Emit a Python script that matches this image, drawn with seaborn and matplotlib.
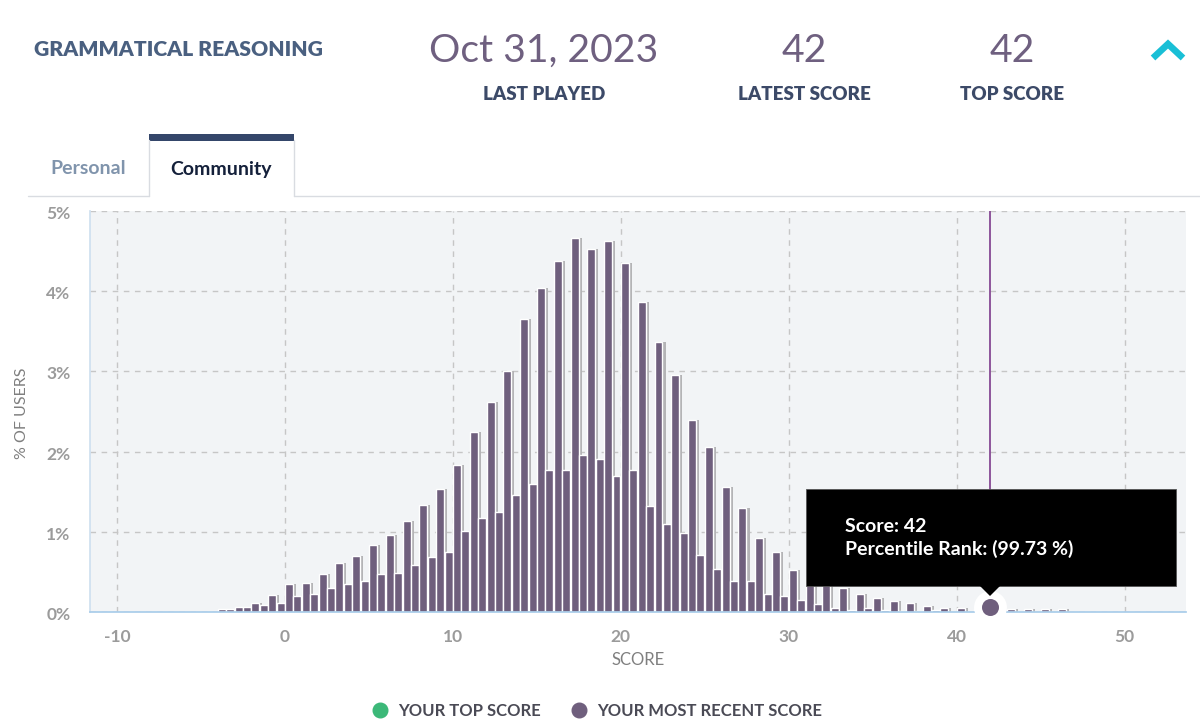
import numpy as np
import pandas as pd
import matplotlib
matplotlib.use("Agg")
import matplotlib.pyplot as plt
from matplotlib.lines import Line2D
from matplotlib.patches import Polygon, Rectangle
from matplotlib.transforms import ScaledTranslation
import seaborn as sns

# scores the community bars start from
scores = list(range(-4, 47))
# taller bar of each pair, % of users
tall_pct = [0.035, 0.06, 0.11, 0.21, 0.35, 0.366, 0.47, 0.61, 0.70, 0.83, 0.96, 1.13, 1.33,
            1.53, 1.83, 2.24, 2.62, 3.01, 3.65, 4.04, 4.38, 4.66, 4.52, 4.63, 4.35, 3.86,
            3.37, 2.95, 2.39, 2.06, 1.56, 1.30, 0.92, 0.75, 0.52, 0.44, 0.36, 0.30, 0.23,
            0.175, 0.14, 0.11, 0.075, 0.05, 0.05, 0.04, 0.04, 0.035, 0.035, 0.035, 0.035]
# shorter bar of each pair
short_pct = [0.035, 0.06, 0.09, 0.11, 0.20, 0.22, 0.295, 0.35, 0.39, 0.47, 0.49, 0.59, 0.68,
             0.75, 1.01, 1.17, 1.25, 1.46, 1.60, 1.77, 1.77, 1.96, 1.91, 1.70, 1.77, 1.32,
             1.10, 0.99, 0.71, 0.54, 0.39, 0.39, 0.23, 0.20, 0.15, 0.10, 0.05, 0.025, 0.05,
             0.025, 0.01, 0.01, 0.02, 0.005, 0.005, 0, 0, 0, 0, 0, 0]
latest_score = 42
latest_pct = 0.06
x_ticks = [-10, 0, 10, 20, 30, 40, 50]
y_ticks = [0, 1, 2, 3, 4, 5]

W, H = 1200, 728
PURPLE = "#6f5f7d"
GREY = "#9b9b9b"
NAVY = "#3c4a68"
FONT = "Lato"


def fx(px):
    return px / W


def fy(px):
    return 1 - px / H


sns.set_theme(style="white")
plt.rcParams["font.family"] = [FONT, "DejaVu Sans"]

fig = plt.figure(figsize=(W / 100, H / 100), dpi=100, facecolor="white")
ax = fig.add_axes([fx(90), fy(612), (1186 - 90) / W, (612 - 211) / H])
ax.set_facecolor("#f2f4f6")

# bars sit at quarter offsets of each score
tall_x = [s + 0.25 for s in scores]
short_x = [s + 0.75 for s in scores]
bars = pd.DataFrame({"score": tall_x + short_x, "pct": tall_pct + short_pct})
shadow = pd.DataFrame({"score": [x + 0.21 for x in tall_x], "pct": tall_pct})

sns.barplot(data=shadow, x="score", y="pct", native_scale=True, width=0.42,
            color="#b4b4b6", saturation=1, linewidth=0, ax=ax, zorder=2)
sns.barplot(data=bars, x="score", y="pct", native_scale=True, width=0.95,
            color=PURPLE, saturation=1, edgecolor="white", linewidth=1, ax=ax, zorder=3)

ax.set_xlim(-11.6, 53.66)
ax.set_ylim(0, 5)
ax.set_xticks(x_ticks)
ax.set_xticklabels([str(v) for v in x_ticks], fontweight="bold")
ax.set_yticks(y_ticks)
ax.set_yticklabels([f"{v}%" for v in y_ticks], fontweight="bold")
ax.set_axisbelow(True)
ax.grid(True, color="#c6c6c6", linestyle=(0, (4, 4)), linewidth=1)
ax.tick_params(length=0, labelsize=12.5, labelcolor=GREY)
ax.tick_params(axis="x", pad=12)
ax.tick_params(axis="y", pad=14)
nudge = ScaledTranslation(0, -1.5 / 100, fig.dpi_scale_trans)
for lab in ax.get_yticklabels():
    lab.set_transform(lab.get_transform() + nudge)
ax.set_xlabel("")
ax.set_ylabel("")
for side in ["top", "right"]:
    ax.spines[side].set_visible(False)
ax.spines["left"].set_color("#cfe0f0")
ax.spines["bottom"].set_color("#a9cdea")
ax.spines["bottom"].set_zorder(4)

# latest score marker, its line and the tooltip
ax.axvline(latest_score, color="#7d3a8c", linewidth=1.2, zorder=4)
marker = pd.DataFrame({"score": [latest_score], "pct": [latest_pct]})
sns.scatterplot(data=marker, x="score", y="pct", s=560, color="white", linewidth=0,
                clip_on=False, ax=ax, zorder=5)
ax.set_xlabel("")
ax.set_ylabel("")

fig.add_artist(Rectangle((fx(806), fy(586)), 370 / W, 97 / H, transform=fig.transFigure,
                         facecolor="black", edgecolor="#555555", linewidth=0.6, zorder=6))
fig.add_artist(Polygon([(fx(980), fy(586)), (fx(1000), fy(586)), (fx(990), fy(596))],
                       transform=fig.transFigure, facecolor="black", edgecolor="none", zorder=6))
fig.text(fx(845), fy(526), "Score: 42", color="white", fontsize=14, fontweight="bold",
         va="center", zorder=7)
fig.text(fx(845), fy(549), "Percentile Rank: (99.73 %)", color="white", fontsize=14,
         fontweight="bold", va="center", zorder=7)
sns.scatterplot(data=marker, x="score", y="pct", s=150, color=PURPLE, linewidth=0,
                clip_on=False, ax=ax, zorder=8)
ax.set_xlabel("")
ax.set_ylabel("")

# axis titles
fig.text(fx(22), fy(413), "% OF USERS", rotation=90, ha="center", va="center",
         color="#7f7f7f", fontsize=11.5)
fig.text(fx(638), fy(660), "SCORE", ha="center", va="center", color="#7f7f7f", fontsize=12)

# header row
fig.text(fx(34), fy(49), "GRAMMATICAL REASONING", color="#4a6080", fontsize=15.2,
         fontweight="heavy", va="center")
for cx, big, small in [(544, "Oct 31, 2023", "LAST PLAYED"),
                       (804, "42", "LATEST SCORE"),
                       (1012, "42", "TOP SCORE")]:
    fig.text(fx(cx), fy(51), big, color="#6f6080", fontsize=28.2, ha="center", va="center")
    fig.text(fx(cx), fy(94), small, color=NAVY, fontsize=13.5, fontweight="heavy",
             ha="center", va="center")

# collapse chevron
fig.add_artist(Line2D([fx(1153), fx(1168), fx(1183)], [fy(58), fy(44), fy(58)],
                      color="#19bfd6", linewidth=4.8, solid_joinstyle="miter",
                      solid_capstyle="butt"))

# tabs
line_c = "#d9dce1"
fig.add_artist(Line2D([fx(28), fx(149)], [fy(196), fy(196)], color=line_c, linewidth=1))
fig.add_artist(Line2D([fx(294), fx(1200)], [fy(196), fy(196)], color=line_c, linewidth=1))
fig.add_artist(Line2D([fx(149), fx(149)], [fy(140), fy(196)], color=line_c, linewidth=1))
fig.add_artist(Line2D([fx(294), fx(294)], [fy(140), fy(196)], color=line_c, linewidth=1))
fig.add_artist(Rectangle((fx(149), fy(141)), 145 / W, 7 / H, transform=fig.transFigure,
                         facecolor="#34466a", edgecolor="none"))
fig.text(fx(88), fy(168), "Personal", color="#8094ac", fontsize=14, fontweight="bold",
         ha="center", va="center")
fig.text(fx(221), fy(169), "Community", color="#14203a", fontsize=14, fontweight="bold",
         ha="center", va="center")

# legend
for dot_x, text_x, color, label in [(380, 398, "#3cb878", "YOUR TOP SCORE"),
                                    (579, 597, PURPLE, "YOUR MOST RECENT SCORE")]:
    fig.add_artist(Line2D([fx(dot_x)], [fy(710)], marker="o", markersize=10.5, color=color,
                          linestyle="none"))
    fig.text(fx(text_x), fy(711), label, color="#4a4a55", fontsize=12, fontweight="bold",
             va="center")

fig.savefig("out.png", dpi=100)
